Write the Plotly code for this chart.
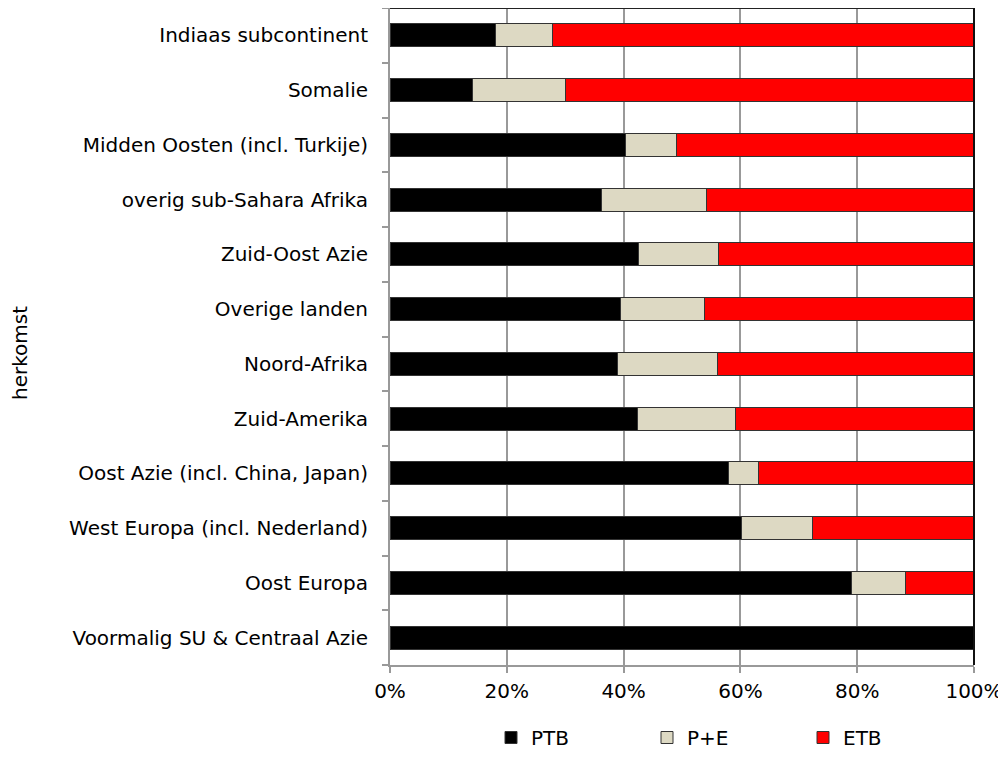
import plotly.graph_objects as go

categories = [
    "Indiaas subcontinent",
    "Somalie",
    "Midden Oosten (incl. Turkije)",
    "overig sub-Sahara Afrika",
    "Zuid-Oost Azie",
    "Overige landen",
    "Noord-Afrika",
    "Zuid-Amerika",
    "Oost Azie (incl. China, Japan)",
    "West Europa (incl. Nederland)",
    "Oost Europa",
    "Voormalig SU & Centraal Azie",
]
ptb = [18.0, 14.2, 40.3, 36.2, 42.6, 39.4, 39.0, 42.4, 57.9, 60.2, 79.1, 100.0]
pe = [9.9, 15.9, 8.7, 18.0, 13.7, 14.4, 17.0, 16.8, 5.2, 12.1, 9.2, 0.0]
etb = [72.1, 69.9, 51.0, 45.8, 43.7, 46.2, 44.0, 40.8, 36.9, 27.7, 11.7, 0.0]
series_names = ["PTB", "P+E", "ETB"]
series_colors = ["#000000", "#DDD9C3", "#FF0000"]
x_ticks = [0, 20, 40, 60, 80, 100]
x_ticklabels = ["0%", "20%", "40%", "60%", "80%", "100%"]

FONT = "DejaVu Sans"
FS = 20
OFF = 8  # page body margin
W, H = 1006 - OFF, 757 - OFF
ML, MR, MT, MB = 390 - OFF, 32, 0, 92
PW = W - ML - MR
PH = H - MT - MB

def px_x(page_x):
    return (page_x - OFF - ML) / PW

def px_y(page_y):
    return ((H - MB) - (page_y - OFF)) / PH

fig = go.Figure()
for name, vals, col in zip(series_names, [ptb, pe, etb], series_colors):
    fig.add_trace(go.Bar(
        y=categories, x=vals, name=name, orientation="h",
        marker=dict(color=col, line=dict(color="#333333", width=1)),
    ))

fig.update_layout(
    width=W, height=H,
    margin=dict(l=ML, r=MR, t=MT, b=MB, pad=0),
    barmode="stack", bargap=0.58,
    plot_bgcolor="white", paper_bgcolor="white",
    font=dict(family=FONT, size=FS, color="#000000"),
    xaxis=dict(
        range=[0, 100], tickvals=x_ticks, ticktext=x_ticklabels,
        showgrid=True, gridcolor="#999999", gridwidth=2,
        showline=True, linecolor="#999999", linewidth=2,
        ticks="outside", ticklen=6, tickcolor="#999999", tickwidth=2,
        zeroline=False, tickfont=dict(size=FS), ticklabelstandoff=1,
    ),
    yaxis=dict(
        categoryorder="array", categoryarray=categories[::-1],
        showgrid=False, showline=True, linecolor="#999999", linewidth=2,
        ticks="outside", ticklen=6, tickcolor="#999999", tickwidth=2,
        tickson="boundaries", tickfont=dict(size=FS), ticklabelstandoff=16,
    ),
    legend=dict(
        orientation="h", x=(483 - ML) / PW, xanchor="left",
        yref="container", y=-0.008, yanchor="bottom",
        font=dict(size=FS), traceorder="normal",
        entrywidth=111, entrywidthmode="pixels",
    ),
    showlegend=True,
)

fig.add_annotation(
    text="herkomst", textangle=-90, showarrow=False,
    xref="paper", yref="paper",
    x=px_x(20), y=px_y(353),
    xanchor="center", yanchor="middle", font=dict(size=FS),
)

fig.add_shape(type="line", xref="paper", yref="paper", x0=0, x1=1, y0=1, y1=1,
              line=dict(color="#222222", width=2))
fig.add_shape(type="line", xref="paper", yref="paper", x0=1, x1=1, y0=0, y1=1,
              line=dict(color="#111111", width=2))

for top in [23, 76, 129, 182, 235, 287]:
    fig.add_shape(type="rect", xref="paper", yref="paper",
                  x0=px_x(1003), x1=px_x(1006),
                  y0=px_y(top + 27), y1=px_y(top),
                  line=dict(width=0), fillcolor="#DCDCDC", layer="above")

fig.write_html("out.html")
